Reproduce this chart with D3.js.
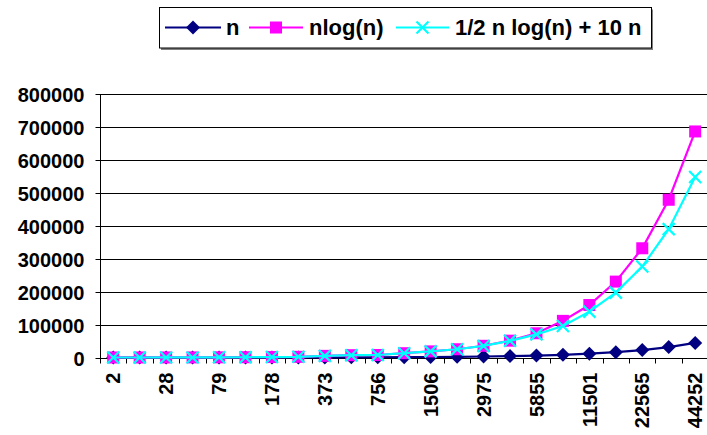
<!DOCTYPE html>
<html>
<head>
<meta charset="utf-8">
<script src="https://cdn.jsdelivr.net/npm/d3@7"></script>
<style>
  html, body { margin: 0; padding: 0; background: #fff; }
  svg { display: block; }
  text { font-family: "Liberation Sans", Arial, sans-serif; font-weight: bold; fill: #000; }
</style>
</head>
<body>
<svg id="chart" width="707" height="435"></svg>
<script>
// Input sizes n (x categories)
const sizes = [2, 13, 28, 49, 79, 120, 178, 259, 373, 533, 756, 1068, 1506, 2118,
               2975, 4175, 5855, 8208, 11501, 16111, 22565, 31601, 44252];
// Only every other size is printed on the axis
const tickLabels = ["2", "28", "79", "178", "373", "756", "1506", "2975",
                    "5855", "11501", "22565", "44252"];
// Series values
const seriesN = [2, 13, 28, 49, 79, 120, 178, 259, 373, 533, 756, 1068, 1506, 2118,
                 2975, 4175, 5855, 8208, 11501, 16111, 22565, 31601, 44252];
const seriesNLogN = [2, 48, 135, 275, 498, 829, 1331, 2077, 5000, 7000, 7600, 13000,
                     18500, 25000, 35500, 51000, 73400, 111000, 159000, 230000,
                     331000, 478000, 685000];
const seriesHalf = [2, 48, 135, 275, 498, 829, 1331, 2077, 5000, 7000, 7600, 13000,
                    18500, 25000, 35000, 50500, 70000, 95600, 139000, 196600,
                    275500, 389000, 546700];
const yTicks = [0, 100000, 200000, 300000, 400000, 500000, 600000, 700000, 800000];
const legendNames = ["n", "nlog(n)", "1/2 n log(n) + 10 n"];

const svg = d3.select("#chart");
const plot = { left: 100, right: 708.4, top: 93.5, bottom: 357.5 };

const x = d3.scaleBand().domain(d3.range(sizes.length)).range([plot.left, plot.right]);
const cx = i => x(i) + x.bandwidth() / 2;
const y = d3.scaleLinear().domain([0, 800000]).range([plot.bottom, plot.top]);

// Horizontal gridlines
svg.append("g").selectAll("line").data(yTicks.slice(1)).join("line")
  .attr("x1", plot.left).attr("x2", plot.right)
  .attr("y1", d => Math.round(y(d)) + 0.5).attr("y2", d => Math.round(y(d)) + 0.5)
  .attr("stroke", "#000").attr("stroke-width", 1);

// Y axis
const yAxis = d3.axisLeft(y).tickValues(yTicks).tickSize(5).tickPadding(11)
  .tickFormat(d3.format("d"));
const gy = svg.append("g").attr("transform", `translate(${plot.left + 0.5},0.5)`).call(yAxis);
gy.selectAll("path, line").attr("stroke", "#000");
gy.select(".domain").attr("d", `M0,${y(800000)}V${y(0)}`);
gy.selectAll("text").attr("font-size", 20).attr("font-family", null).attr("dy", "0.36em");

// X axis: ticks sit between the categories
const gx = svg.append("g").attr("transform", `translate(0,${Math.round(plot.bottom) + 0.5})`);
gx.append("line").attr("x1", plot.left).attr("x2", plot.right).attr("stroke", "#000");
gx.selectAll("line.tick").data(d3.range(sizes.length + 1)).join("line")
  .attr("class", "tick")
  .attr("x1", i => Math.round(plot.left + i * x.bandwidth()) + 0.5)
  .attr("x2", i => Math.round(plot.left + i * x.bandwidth()) + 0.5)
  .attr("y1", 0).attr("y2", 5).attr("stroke", "#000");
gx.selectAll("text").data(tickLabels).join("text")
  .attr("transform", (d, k) => `translate(${cx(k * 2)},14) rotate(-90)`)
  .attr("text-anchor", "end").attr("dy", "0.36em")
  .attr("font-size", 20).text(d => d);

// Series
const line = d3.line().x((d, i) => cx(i)).y(d => y(d));
const series = [
  { values: seriesN, color: "#000080", marker: "diamond" },
  { values: seriesNLogN, color: "#FF00FF", marker: "square" },
  { values: seriesHalf, color: "#00FFFF", marker: "cross" }
];

function drawMarker(g, type, color, px, py) {
  if (type === "diamond") {
    g.append("path").attr("d", `M${px},${py - 7}L${px + 7},${py}L${px},${py + 7}L${px - 7},${py}Z`)
      .attr("fill", color);
  } else if (type === "square") {
    g.append("rect").attr("x", px - 6).attr("y", py - 6).attr("width", 12).attr("height", 12)
      .attr("fill", color);
  } else {
    g.append("path").attr("d", `M${px - 6},${py - 6}L${px + 6},${py + 6}M${px + 6},${py - 6}L${px - 6},${py + 6}`)
      .attr("stroke", color).attr("stroke-width", 2.2).attr("fill", "none");
  }
}

series.forEach(s => {
  const g = svg.append("g");
  g.append("path").datum(s.values).attr("d", line)
    .attr("fill", "none").attr("stroke", s.color).attr("stroke-width", 2.2);
  s.values.forEach((v, i) => drawMarker(g, s.marker, s.color, cx(i), y(v)));
});

// Legend
const lg = svg.append("g");
lg.append("rect").attr("x", 161).attr("y", 9.5).attr("width", 492).attr("height", 40.5).attr("fill", "#808080");
lg.append("rect").attr("x", 159.5).attr("y", 7.5).attr("width", 492).attr("height", 40.5)
  .attr("fill", "#fff").attr("stroke", "#000").attr("stroke-width", 1);
const legendItems = [
  { x1: 165, x2: 221, tx: 226 },
  { x1: 249, x2: 303, tx: 309 },
  { x1: 396, x2: 449, tx: 455 }
];
legendItems.forEach((it, k) => {
  const s = series[k];
  lg.append("line").attr("x1", it.x1).attr("x2", it.x2).attr("y1", 27.5).attr("y2", 27.5)
    .attr("stroke", s.color).attr("stroke-width", 2);
  drawMarker(lg, s.marker, s.color, (it.x1 + it.x2) / 2, 27.5);
  lg.append("text").attr("x", it.tx).attr("y", 35.3).attr("font-size", 22).text(legendNames[k]);
});
</script>
</body>
</html>
